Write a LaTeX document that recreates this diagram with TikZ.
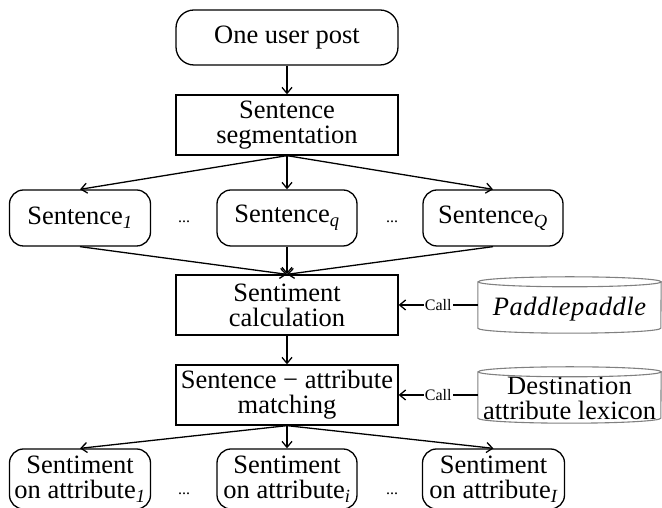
\documentclass[tikz,border=0pt]{standalone}
\usepackage{fontspec}
\setmainfont{Liberation Serif}
\usetikzlibrary{arrows.meta}
\begin{document}
\begin{tikzpicture}[x=1pt,y=1pt,
  every node/.style={font=\fontsize{26.5}{25}\selectfont, align=center, inner sep=0pt},
  proc/.style={draw, line width=1.3pt, minimum width=222pt, minimum height=60pt},
  term/.style={draw, line width=1.3pt, rounded corners=14pt, minimum width=141pt, minimum height=56pt},
  arr/.style={line width=1.3pt, -{Straight Barb[length=6pt,width=10pt]}},
  cylline/.style={draw=gray, line width=1.1pt},
  cylnode/.style={minimum width=183pt, minimum height=56pt},
  dots/.style={font=\fontsize{16}{16}\selectfont},
  calllbl/.style={fill=white, font=\fontsize{16}{16}\selectfont, inner sep=1pt}
]
\clip (0,0) rectangle (662,508);

\node[term, rounded corners=18pt, minimum width=222pt, minimum height=55pt] (post) at (287,470.5) {One user post};
\node[proc, minimum height=60pt] (seg) at (287,383) {Sentence\\segmentation};

\node[term] (s1) at (80,290) {Sentence\textsubscript{\itshape 1}};
\node[term, minimum width=140pt] (sq) at (287,290) {Sentence\textsubscript{\itshape q}};
\node[term, minimum width=140pt] (sQ) at (493,290) {Sentence\textsubscript{\itshape Q}};
\node[dots] (d1) at (184,286) {...};
\node[dots] (d2) at (392,286) {...};

\node[proc] (calc) at (287,203) {Sentiment\\calculation};
\node[proc] (match) at (287,113) {Sentence − attribute\\matching};

\node[cylnode] (pp) at (569.5,203) {};
\node (pptext) at (569.5,199) {\addfontfeatures{LetterSpace=2}\itshape Paddlepaddle};
\draw[cylline] ([yshift=-5pt]pp.north west) -- ([yshift=5pt]pp.south west)
  arc[start angle=180,end angle=360,x radius=91.5pt,y radius=5pt]
  -- ([yshift=-5pt]pp.north east)
  arc[start angle=0,end angle=360,x radius=91.5pt,y radius=5pt];

\node[cylnode] (dal) at (569.5,113) {};
\node (daltext) at (569.5,110) {\addfontfeatures{LetterSpace=1}Destination\\attribute lexicon};
\draw[cylline] ([yshift=-5pt]dal.north west) -- ([yshift=5pt]dal.south west)
  arc[start angle=180,end angle=360,x radius=91.5pt,y radius=5pt]
  -- ([yshift=-5pt]dal.north east)
  arc[start angle=0,end angle=360,x radius=91.5pt,y radius=5pt];

\node[term, minimum height=60pt] (a1) at (80,29) {Sentiment\\on attribute\textsubscript{\itshape 1}};
\node[term, minimum width=140pt, minimum height=60pt] (ai) at (287,29) {Sentiment\\on attribute\textsubscript{\itshape i}};
\node[term, minimum width=142pt, minimum height=60pt] (aI) at (493.5,29) {Sentiment\\on attribute\textsubscript{\itshape I}};
\node[dots] (d3) at (184,14) {...};
\node[dots] (d4) at (392,14) {...};

\draw[arr] (post) -- (seg);
\draw[arr] (seg.south) -- (s1.north);
\draw[arr] (seg.south) -- (sq.north);
\draw[arr] (seg.south) -- (sQ.north);
\draw[arr] (s1.south) -- (calc.north);
\draw[arr] (sq.south) -- (calc.north);
\draw[arr] (sQ.south) -- (calc.north);
\draw[arr] (calc) -- (match);
\draw[arr] (match.south) -- (a1.north);
\draw[arr] (match.south) -- (ai.north);
\draw[arr] (match.south) -- (aI.north);

\draw[arr] (pp.west) -- node[calllbl] {Call} (calc.east);
\draw[arr] (dal.west) -- node[calllbl] {Call} (match.east);
\end{tikzpicture}
\end{document}
